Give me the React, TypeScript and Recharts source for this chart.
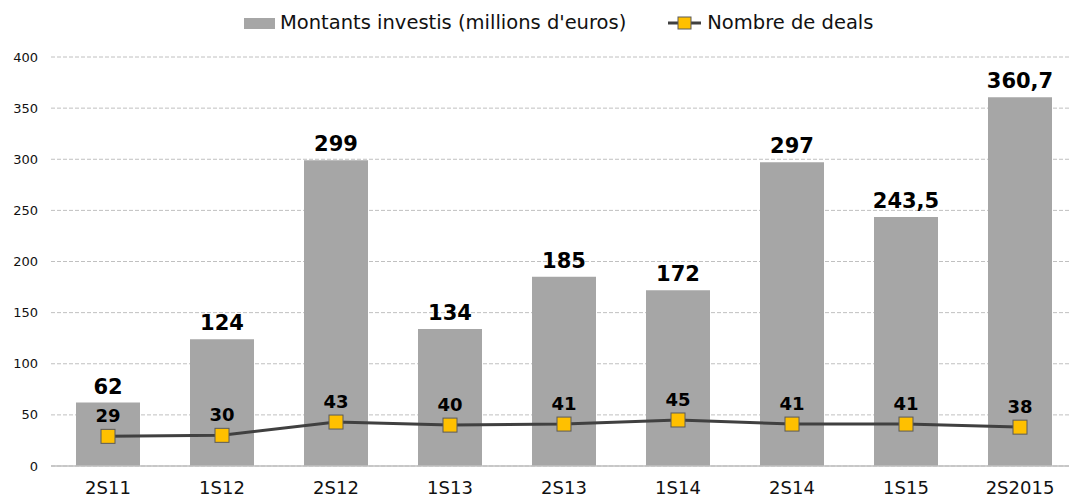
import { Bar, CartesianGrid, ComposedChart, LabelList, Line, XAxis, YAxis } from "recharts";

const periods = ["2S11", "1S12", "2S12", "1S13", "2S13", "1S14", "2S14", "1S15", "2S2015"];
const amounts = [62, 124, 299, 134, 185, 172, 297, 243.5, 360.7];
const deals = [29, 30, 43, 40, 41, 45, 41, 41, 38];
const yTicks = [0, 50, 100, 150, 200, 250, 300, 350, 400];

const data = periods.map((p, i) => ({ period: p, amount: amounts[i], deals: deals[i] }));

const font = "'DejaVu Sans', Verdana, sans-serif";
const fmt = (v: any) => String(v).replace(".", ",");

function SquareDot(props: any) {
  const { cx, cy } = props;
  if (cx == null || cy == null) return null;
  return <rect x={cx - 7} y={cy - 7} width={14} height={14} fill="#FFC000" stroke="#5a5a5a" strokeWidth={1} />;
}

function ChartLegend() {
  return (
    <div
      style={{
        position: "absolute",
        top: 11,
        left: 244,
        display: "flex",
        alignItems: "center",
        fontFamily: font,
        fontSize: 19.5,
        lineHeight: "24px",
        color: "#111",
        whiteSpace: "nowrap",
      }}
    >
      <span style={{ display: "inline-block", width: 31, height: 11, background: "#A6A6A6", marginRight: 5 }} />
      <span>Montants investis (millions d'euros)</span>
      <svg width={33} height={16} style={{ marginLeft: 42, marginRight: 6 }}>
        <line x1={0} y1={8} x2={33} y2={8} stroke="#404040" strokeWidth={3} />
        <rect x={10} y={2} width={13} height={12} fill="#FFC000" stroke="#5a5a5a" />
      </svg>
      <span>Nombre de deals</span>
    </div>
  );
}

export default function App() {
  return (
    <div style={{ position: "absolute", left: 0, top: 0, width: 1077, height: 499, background: "#fff" }}>
      <ComposedChart width={1077} height={499} data={data} margin={{ top: 57, right: 0, bottom: 0, left: 0 }}>
        <CartesianGrid vertical={false} stroke="#c0c0c0" strokeDasharray="4 2" />
        <XAxis
          dataKey="period"
          height={33}
          tickLine={false}
          tickSize={0}
          tickMargin={15}
          axisLine={{ stroke: "#bfbfbf", strokeWidth: 1.5 }}
          tick={{ fill: "#111", fontSize: 18, fontFamily: font }}
          interval={0}
        />
        <YAxis
          width={51}
          domain={[0, 400]}
          ticks={yTicks}
          axisLine={false}
          tickLine={false}
          tickSize={0}
          tickMargin={13}
          tick={{ fill: "#111", fontSize: 13, fontFamily: font }}
        />
        <Bar dataKey="amount" fill="#A6A6A6" barSize={64} isAnimationActive={false}>
          <LabelList
            dataKey="amount"
            position="top"
            offset={9}
            formatter={fmt}
            style={{ fill: "#000", fontSize: 21, fontWeight: "bold", fontFamily: font }}
          />
        </Bar>
        <Line
          dataKey="deals"
          stroke="#404040"
          strokeWidth={3}
          dot={<SquareDot />}
          activeDot={false}
          isAnimationActive={false}
        >
          <LabelList
            dataKey="deals"
            position="top"
            offset={14}
            style={{ fill: "#000", fontSize: 18, fontWeight: "bold", fontFamily: font }}
          />
        </Line>
      </ComposedChart>
      <ChartLegend />
    </div>
  );
}
